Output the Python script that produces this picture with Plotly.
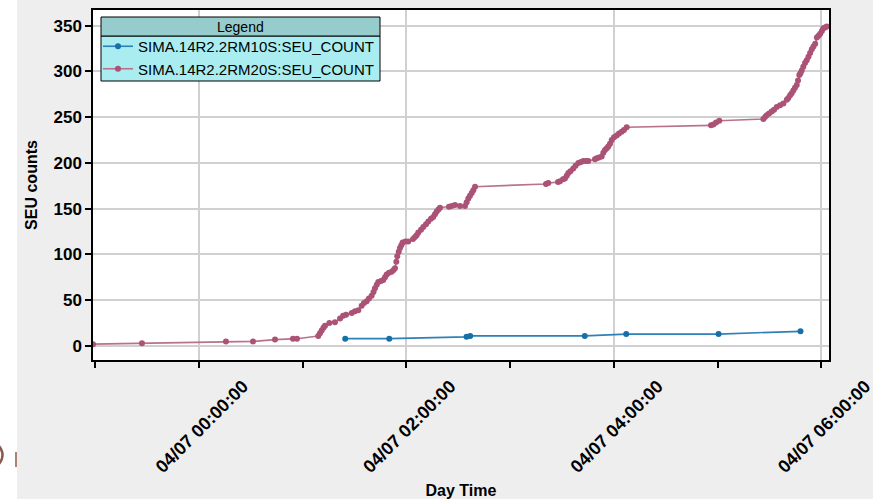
import plotly.graph_objects as go

# ---------------- data ----------------
series_names = ["SIMA.14R2.2RM10S:SEU_COUNT", "SIMA.14R2.2RM20S:SEU_COUNT"]

blue_time = [
    "2012-04-07 01:24:36", "2012-04-07 01:50:06", "2012-04-07 02:34:48", "2012-04-07 02:36:54",
    "2012-04-07 03:43:12", "2012-04-07 04:07:12", "2012-04-07 05:00:36", "2012-04-07 05:48:00",
]
blue_count = [8, 8, 10, 11, 11, 13, 13, 16]

pink_time = [
    "2012-04-06 22:58:41", "2012-04-06 23:27:00", "2012-04-07 00:15:36", "2012-04-07 00:31:16",
    "2012-04-07 00:44:00", "2012-04-07 00:54:22", "2012-04-07 00:56:42", "2012-04-07 01:09:00",
    "2012-04-07 01:10:00", "2012-04-07 01:11:00", "2012-04-07 01:12:00", "2012-04-07 01:12:54",
    "2012-04-07 01:15:25", "2012-04-07 01:18:40", "2012-04-07 01:21:36", "2012-04-07 01:23:24",
    "2012-04-07 01:25:05", "2012-04-07 01:28:23", "2012-04-07 01:30:14", "2012-04-07 01:32:10",
    "2012-04-07 01:34:08", "2012-04-07 01:35:28", "2012-04-07 01:37:01", "2012-04-07 01:38:20",
    "2012-04-07 01:39:54", "2012-04-07 01:40:59", "2012-04-07 01:41:49", "2012-04-07 01:42:50",
    "2012-04-07 01:43:44", "2012-04-07 01:45:18", "2012-04-07 01:46:37", "2012-04-07 01:47:38",
    "2012-04-07 01:48:36", "2012-04-07 01:49:55", "2012-04-07 01:51:29", "2012-04-07 01:52:34",
    "2012-04-07 01:53:24", "2012-04-07 01:54:11", "2012-04-07 01:54:43", "2012-04-07 01:55:34",
    "2012-04-07 01:56:17", "2012-04-07 01:57:04", "2012-04-07 01:57:50", "2012-04-07 01:59:28",
    "2012-04-07 02:01:05", "2012-04-07 02:03:50", "2012-04-07 02:04:59", "2012-04-07 02:05:56",
    "2012-04-07 02:06:54", "2012-04-07 02:08:28", "2012-04-07 02:09:47", "2012-04-07 02:11:20",
    "2012-04-07 02:12:40", "2012-04-07 02:14:13", "2012-04-07 02:15:32", "2012-04-07 02:16:34",
    "2012-04-07 02:17:31", "2012-04-07 02:18:32", "2012-04-07 02:19:26", "2012-04-07 02:24:40",
    "2012-04-07 02:26:13", "2012-04-07 02:28:08", "2012-04-07 02:31:01", "2012-04-07 02:33:54",
    "2012-04-07 02:34:52", "2012-04-07 02:35:49", "2012-04-07 02:36:47", "2012-04-07 02:37:48",
    "2012-04-07 02:38:42", "2012-04-07 02:39:43", "2012-04-07 03:20:46", "2012-04-07 03:22:05",
    "2012-04-07 03:27:43", "2012-04-07 03:28:52", "2012-04-07 03:30:36", "2012-04-07 03:31:44",
    "2012-04-07 03:32:46", "2012-04-07 03:33:40", "2012-04-07 03:34:55", "2012-04-07 03:36:32",
    "2012-04-07 03:37:52", "2012-04-07 03:39:29", "2012-04-07 03:41:02", "2012-04-07 03:42:22",
    "2012-04-07 03:43:55", "2012-04-07 03:45:14", "2012-04-07 03:49:05", "2012-04-07 03:50:06",
    "2012-04-07 03:51:25", "2012-04-07 03:52:59", "2012-04-07 03:53:56", "2012-04-07 03:54:54",
    "2012-04-07 03:55:55", "2012-04-07 03:56:49", "2012-04-07 03:57:47", "2012-04-07 03:58:48",
    "2012-04-07 04:00:07", "2012-04-07 04:01:41", "2012-04-07 04:03:00", "2012-04-07 04:04:34",
    "2012-04-07 04:05:53", "2012-04-07 04:07:26", "2012-04-07 04:56:13", "2012-04-07 04:57:36",
    "2012-04-07 04:59:10", "2012-04-07 05:01:01", "2012-04-07 05:26:31", "2012-04-07 05:27:29",
    "2012-04-07 05:28:26", "2012-04-07 05:29:49", "2012-04-07 05:31:23", "2012-04-07 05:32:42",
    "2012-04-07 05:34:16", "2012-04-07 05:36:11", "2012-04-07 05:38:06", "2012-04-07 05:40:05",
    "2012-04-07 05:40:59", "2012-04-07 05:42:00", "2012-04-07 05:42:54", "2012-04-07 05:43:52",
    "2012-04-07 05:44:49", "2012-04-07 05:45:50", "2012-04-07 05:46:34", "2012-04-07 05:47:20",
    "2012-04-07 05:48:00", "2012-04-07 05:48:43", "2012-04-07 05:49:37", "2012-04-07 05:50:38",
    "2012-04-07 05:51:36", "2012-04-07 05:52:37", "2012-04-07 05:53:35", "2012-04-07 05:54:33",
    "2012-04-07 05:55:30", "2012-04-07 05:56:31", "2012-04-07 05:57:29", "2012-04-07 05:58:26",
    "2012-04-07 05:59:24", "2012-04-07 06:00:22", "2012-04-07 06:01:12", "2012-04-07 06:02:13",
    "2012-04-07 06:03:11",
]
pink_count = [
    2, 3, 5, 5, 7, 8, 8, 11, 14, 17, 20, 22, 25, 26, 30, 33, 34, 36, 38, 39,
    44, 47, 49, 52, 55, 59, 63, 67, 70, 71, 72, 75, 78, 80, 81, 83, 85, 92, 98, 103,
    107, 110, 113, 114, 114, 117, 119, 121, 124, 127, 130, 133, 136, 139, 141, 144, 147, 149, 151, 152,
    153, 154, 153, 153, 157, 161, 164, 167, 170, 174, 177, 178, 179, 180, 182, 183, 186, 189, 191, 194,
    197, 200, 201, 202, 202, 202, 204, 205, 206, 207, 211, 214, 216, 218, 221, 225, 228, 230, 232, 234,
    236, 239, 241, 242, 244, 246, 248, 250, 252, 254, 256, 258, 261, 263, 265, 269, 271, 274, 276, 279,
    282, 285, 290, 296, 298, 301, 305, 309, 312, 316, 320, 324, 327, 330, 337, 339, 341, 344, 347, 348,
    349,
]

x_range = ["2012-04-06 22:58:41", "2012-04-07 06:04:30"]
y_range = [-15.3, 367]
y_ticks = [0, 50, 100, 150, 200, 250, 300, 350]

# ---------------- geometry helpers ----------------
W, H = 873, 499
L, R, T, B = 93, 44, 10, 139
PW, PH = W - L - R, H - T - B


def pxx(x):
    return (x - L) / PW


def pxy(y):
    return (H - B - y) / PH


FONT = "Liberation Sans, Arial, sans-serif"
BLUE_LINE, BLUE_MK = "#2e80b6", "#1670a8"
PINK_LINE, PINK_MK = "#b9718c", "#ab5276"

fig = go.Figure()
fig.add_trace(go.Scatter(
    x=blue_time, y=blue_count, name=series_names[0], mode="lines+markers",
    line=dict(color=BLUE_LINE, width=1.6),
    marker=dict(color=BLUE_MK, size=6, line=dict(width=0)),
))
fig.add_trace(go.Scatter(
    x=pink_time, y=pink_count, name=series_names[1], mode="lines+markers",
    line=dict(color=PINK_LINE, width=1.6),
    marker=dict(color=PINK_MK, size=6, line=dict(width=0)),
))

# partial glyph arc at the very left edge (screenshot artefact)
arc = "M {a},{b} Q {c},{d} {e},{f}".format(
    a=pxx(-1), b=pxy(446), c=pxx(6), d=pxy(455), e=pxx(-1), f=pxy(464))

shapes = [
    # white strip at the very left of the screenshot
    dict(type="rect", xref="paper", yref="paper", x0=pxx(-2), x1=pxx(17), y0=pxy(-2), y1=pxy(H + 2),
         fillcolor="white", line=dict(width=0), layer="below"),
    # legend body and header
    dict(type="rect", xref="paper", yref="paper", x0=pxx(101), x1=pxx(380), y0=pxy(81), y1=pxy(36),
         fillcolor="#a9edf1", line=dict(color="black", width=1), layer="above"),
    dict(type="rect", xref="paper", yref="paper", x0=pxx(101), x1=pxx(380), y0=pxy(36), y1=pxy(17),
         fillcolor="#97cccc", line=dict(color="black", width=1), layer="above"),
    # small cut-off marks at the left edge
    dict(type="line", xref="paper", yref="paper", x0=pxx(16), x1=pxx(16), y0=pxy(452), y1=pxy(467),
         line=dict(color="#8a5a4c", width=1.5)),
    dict(type="path", xref="paper", yref="paper", path=arc, line=dict(color="#8a5a4c", width=2.5)),
]

annotations = [
    dict(text="Legend", xref="paper", yref="paper", x=pxx(240.5), y=pxy(26.5), showarrow=False,
         xanchor="center", yanchor="middle", font=dict(family=FONT, size=14, color="black")),
]

fig.update_layout(
    width=W, height=H,
    margin=dict(l=L, r=R, t=T, b=B, pad=0, autoexpand=False),
    paper_bgcolor="#eeeeee",
    plot_bgcolor="white",
    font=dict(family=FONT, color="black"),
    showlegend=True,
    legend=dict(
        x=pxx(98), xanchor="left", y=pxy(30), yanchor="top",
        bgcolor="rgba(0,0,0,0)", borderwidth=0,
        font=dict(family=FONT, size=15, color="black"),
        tracegroupgap=0,
    ),
    shapes=shapes,
    annotations=annotations,
    xaxis=dict(
        type="date", range=x_range, automargin=False,
        tick0="2012-04-07 00:00:00", dtick=7200000,
        tickformat="%m/%d %H:%M:%S", tickangle=-45,
        tickfont=dict(family=FONT, size=18, color="black", weight="bold"),
        ticks="outside", ticklen=6, tickwidth=1.5, tickcolor="black",
        ticklabelshift=44, ticklabelstandoff=1, ticklabeloverflow="allow",
        showgrid=True, gridcolor="#d0d0d0", gridwidth=1.5,
        showline=True, linecolor="black", linewidth=1.5, mirror=True,
        zeroline=False,
        minor=dict(tick0="2012-04-07 00:00:00", dtick=3600000, ticks="outside", ticklen=6,
                   tickwidth=1.5, tickcolor="black", showgrid=False),
        title=dict(text="Day Time", font=dict(family=FONT, size=16, color="black", weight="bold"),
                   standoff=14),
    ),
    yaxis=dict(
        range=y_range, tickvals=y_ticks, automargin=False,
        tickfont=dict(family=FONT, size=17, color="black", weight="bold"),
        ticks="outside", ticklen=6, tickwidth=1.5, tickcolor="black",
        showgrid=True, gridcolor="#d0d0d0", gridwidth=1.5,
        showline=True, linecolor="black", linewidth=1.5, mirror=True,
        zeroline=False,
        title=dict(text="SEU counts", font=dict(family=FONT, size=16, color="black", weight="bold"),
                   standoff=12),
    ),
)

fig.write_html("out.html", config={"displayModeBar": False},
               post_script="document.body.style.margin='0';")
